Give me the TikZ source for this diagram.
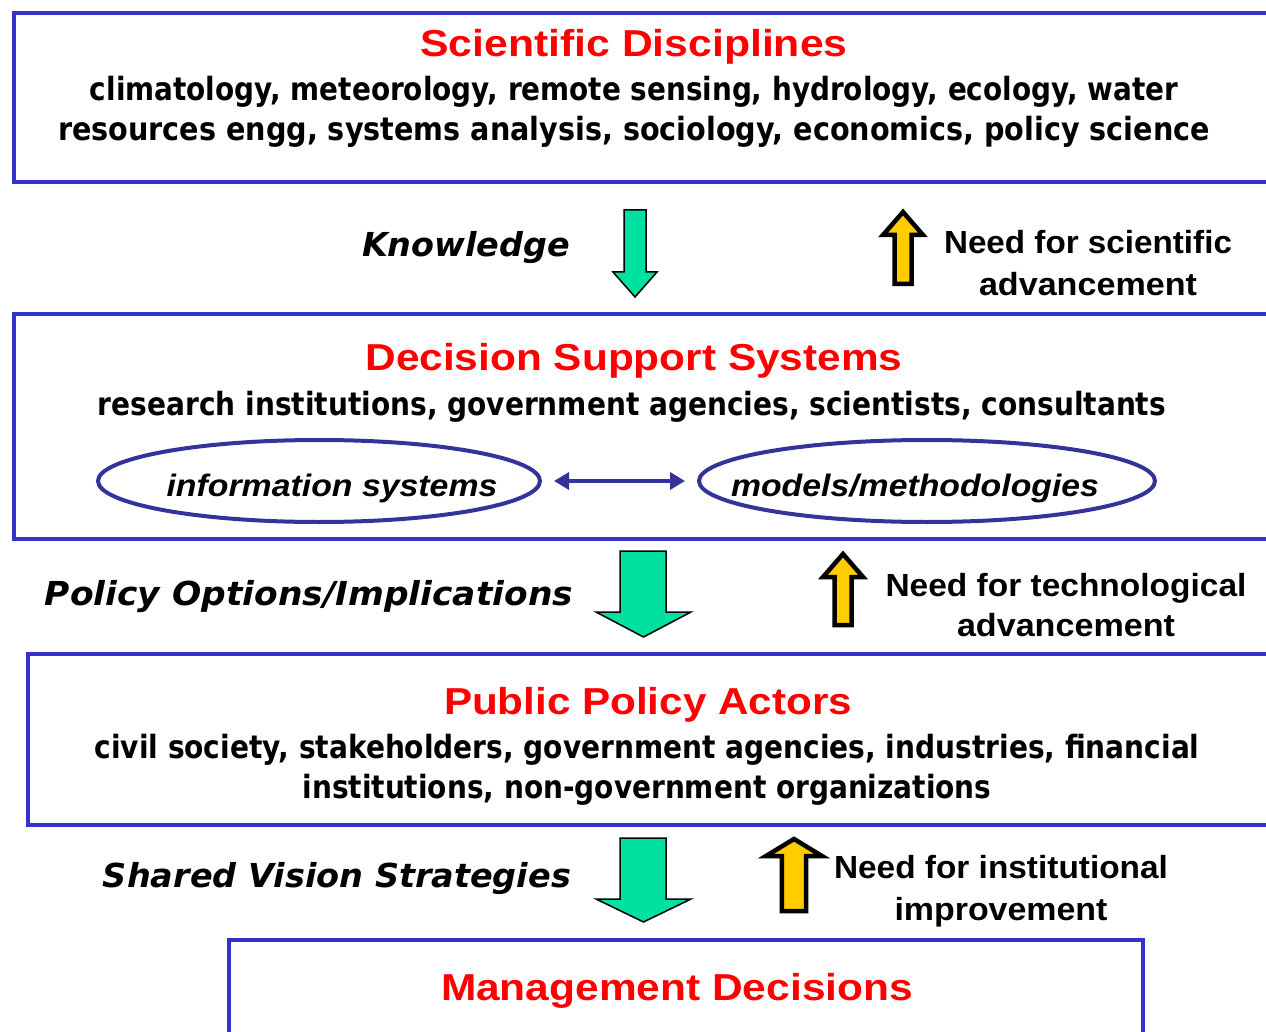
\documentclass[tikz,border=0pt]{standalone}
\usepackage{fontspec}
\setmainfont{Liberation Sans}
\newfontfamily\dvfont{DejaVu Sans}
\usetikzlibrary{shapes.geometric,arrows.meta}
\definecolor{boxblue}{RGB}{51,51,204}
\definecolor{ellblue}{RGB}{51,51,153}
\definecolor{titlered}{RGB}{255,0,0}
\definecolor{mint}{RGB}{0,224,160}
\definecolor{gold}{RGB}{255,204,0}
\newcommand\fw[2]{\resizebox{#1pt}{\height}{#2}}
\begin{document}
\begin{tikzpicture}[x=1pt,y=-1pt,
 panel/.style={draw=boxblue,line width=4pt,rectangle,inner sep=0pt,anchor=north west},
 title/.style={text=titlered,font=\fontsize{37.5}{44}\selectfont\bfseries,inner sep=0pt,anchor=base},
 body/.style={font=\dvfont\fontsize{32}{38}\selectfont\bfseries,inner sep=0pt,anchor=base},
 flow/.style={font=\dvfont\fontsize{33}{40}\selectfont\bfseries\itshape,inner sep=0pt,anchor=base},
 need/.style={font=\fontsize{32}{38}\selectfont\bfseries,inner sep=0pt,anchor=base},
 oval/.style={ellipse,draw=ellblue,line width=4pt,inner sep=0pt},
 ovaltext/.style={font=\fontsize{31}{37}\selectfont\bfseries\itshape,inner sep=0pt,anchor=base},
 greenarrow/.style={fill=mint,draw=black,line width=1.5pt,line join=miter},
 yellowarrow/.style={fill=gold,draw=black,line width=4.5pt,line join=miter},
 linkarrow/.style={draw=ellblue,line width=3.5pt,{Triangle[length=15pt,width=17pt]}-{Triangle[length=15pt,width=17pt]}}
]
\useasboundingbox (0,0) rectangle (1266,1032);
\clip (0,0) rectangle (1266,1032);
\fill[white] (0,0) rectangle (1266,1032);

% panels
\node[panel,minimum width=1280pt,minimum height=169pt] (sd) at (11.5,11) {};
\node[panel,minimum width=1280pt,minimum height=225pt] (dss) at (11.5,312) {};
\node[panel,minimum width=1270pt,minimum height=171pt] (ppa) at (26,652) {};
\node[panel,minimum width=914pt,minimum height=140pt] (md) at (227,938) {};

% panel 1 text
\node[title] (sdt) at (634,57) {\fw{427}{Scientific Disciplines}};
\node[body] (sd1) at (634,101) {\fw{1088}{climatology, meteorology, remote sensing, hydrology, ecology, water}};
\node[body] (sd2) at (634,141) {\fw{1152}{resources engg, systems analysis, sociology, economics, policy science}};

% between 1 and 2
\node[flow] (know) at (466,257) {\fw{208}{Knowledge}};
\draw[greenarrow] (624,210) -- (646,210) -- (646,272) -- (657,272) -- (635,297) -- (613,272) -- (624,272) -- cycle;
\draw[yellowarrow] (894.5,284) -- (911.5,284) -- (911.5,235) -- (923,235) -- (903,212) -- (883,235) -- (894.5,235) -- cycle;
\node[need] (need1a) at (1088,254) {\fw{288}{Need for scientific}};
\node[need] (need1b) at (1088,295) {\fw{218}{advancement}};

% panel 2 text
\node[title] (dsst) at (634,370) {\fw{537}{Decision Support Systems}};
\node[body] (dss1) at (632,415) {\fw{1068}{research institutions, government agencies, scientists, consultants}};
\node[oval,minimum width=442pt,minimum height=82pt] (e1) at (319,481) {};
\node[oval,minimum width=456pt,minimum height=82pt] (e2) at (927,481) {};
\node[ovaltext] (e1t) at (332,496) {\fw{331}{information systems}};
\node[ovaltext] (e2t) at (915,496) {\fw{368}{models/methodologies}};
\draw[linkarrow] ([xshift=12pt]e1.east) -- ([xshift=-12pt]e2.west);

% between 2 and 3
\node[flow] (pol) at (309,605) {\fw{528}{Policy Options/Implications}};
\draw[greenarrow] (620,551) -- (666,551) -- (666,612) -- (691,612) -- (643.5,637) -- (596,612) -- (620,612) -- cycle;
\draw[yellowarrow] (834.5,625) -- (851.5,625) -- (851.5,577) -- (863,577) -- (843,554) -- (823,577) -- (834.5,577) -- cycle;
\node[need] (need2a) at (1066,596) {\fw{361}{Need for technological}};
\node[need] (need2b) at (1066,636) {\fw{218}{advancement}};

% panel 3 text
\node[title] (ppat) at (648,714) {\fw{408}{Public Policy Actors}};
\node[body] (ppa1) at (647,758) {\fw{1105}{civil society, stakeholders, government agencies, industries, financial}};
\node[body] (ppa2) at (647,798) {\fw{689}{institutions, non-government organizations}};

% between 3 and 4
\node[flow] (shv) at (337,887) {\fw{468}{Shared Vision Strategies}};
\draw[greenarrow] (620,838) -- (666,838) -- (666,899) -- (691,899) -- (643.5,922) -- (596,899) -- (620,899) -- cycle;
\draw[yellowarrow] (781.8,911) -- (806.2,911) -- (806.2,856) -- (822,856) -- (794,839) -- (766,856) -- (781.8,856) -- cycle;
\node[need] (need3a) at (1001,878) {\fw{334}{Need for institutional}};
\node[need] (need3b) at (1001,920) {\fw{213}{improvement}};

% panel 4 text
\node[title] (mdt) at (677,1000) {\fw{472}{Management Decisions}};
\end{tikzpicture}
\end{document}
